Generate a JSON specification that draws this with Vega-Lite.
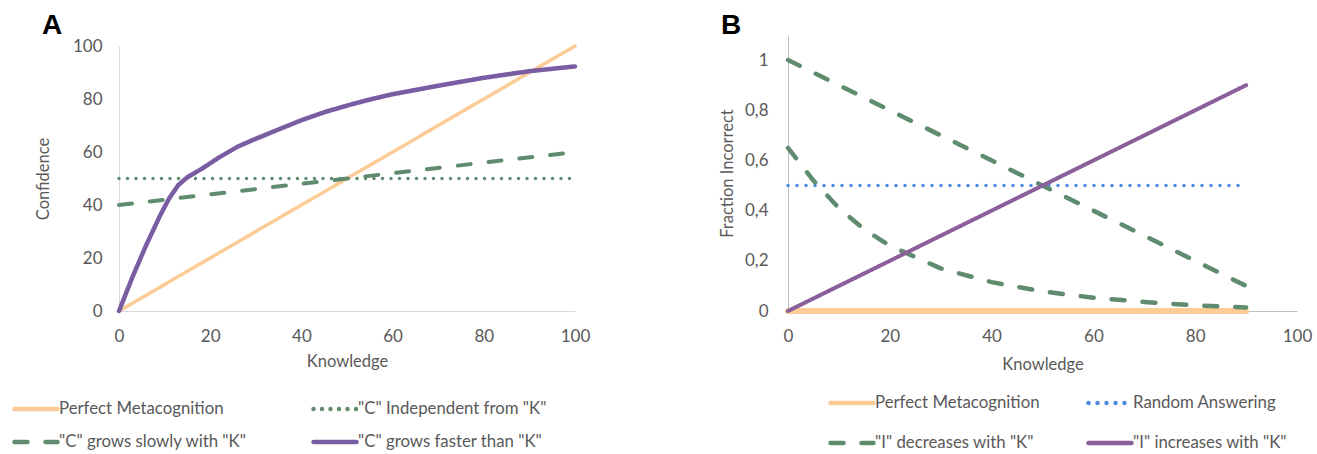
{
  "$schema": "https://vega.github.io/schema/vega-lite/v6.json",
  "padding": {"left": 12, "top": 12, "right": 4, "bottom": 5},
  "spacing": 129,
  "config": {
    "view": {"stroke": null},
    "axis": {
      "grid": false, "ticks": false, "domainColor": "#D9D9D9", "domainWidth": 1, "labelFlush": false,
      "labelColor": "#595959", "labelFont": "Lato", "labelFontSize": 17, "labelPadding": 17,
      "titleColor": "#595959", "titleFont": "Lato", "titleFontSize": 16.5, "titleFontWeight": "normal"
    },
    "legend": {
      "orient": "none", "direction": "horizontal", "columns": 2, "symbolType": "stroke", "symbolSize": 1849, "symbolStrokeWidth": 4.5,
      "labelFont": "Lato", "labelFontSize": 16.8, "labelColor": "#595959", "labelOffset": -1, "labelLimit": 400
    },
    "title": {"font": "Liberation Sans", "fontSize": 28, "fontWeight": "bold", "color": "#000000", "anchor": "start", "frame": "group"}
  },
  "datasets": {
    "a": [
      {"k": 0, "v": 0, "series": "Perfect Metacognition", "line": "p"},
      {"k": 100, "v": 100, "series": "Perfect Metacognition", "line": "p"},
      {"k": 0, "v": 50, "series": "\"C\" Independent from \"K\"", "line": "i"},
      {"k": 100, "v": 50, "series": "\"C\" Independent from \"K\"", "line": "i"},
      {"k": 0, "v": 40, "series": "\"C\" grows slowly with \"K\"", "line": "s"},
      {"k": 100, "v": 60, "series": "\"C\" grows slowly with \"K\"", "line": "s"},
      {"k": 0, "v": 0, "series": "\"C\" grows faster than \"K\"", "line": "f"},
      {"k": 3, "v": 13, "series": "\"C\" grows faster than \"K\"", "line": "f"},
      {"k": 6, "v": 25, "series": "\"C\" grows faster than \"K\"", "line": "f"},
      {"k": 9, "v": 36, "series": "\"C\" grows faster than \"K\"", "line": "f"},
      {"k": 11, "v": 42.5, "series": "\"C\" grows faster than \"K\"", "line": "f"},
      {"k": 13, "v": 47.5, "series": "\"C\" grows faster than \"K\"", "line": "f"},
      {"k": 15, "v": 50.5, "series": "\"C\" grows faster than \"K\"", "line": "f"},
      {"k": 18, "v": 53.5, "series": "\"C\" grows faster than \"K\"", "line": "f"},
      {"k": 22, "v": 58, "series": "\"C\" grows faster than \"K\"", "line": "f"},
      {"k": 26, "v": 62, "series": "\"C\" grows faster than \"K\"", "line": "f"},
      {"k": 30, "v": 65, "series": "\"C\" grows faster than \"K\"", "line": "f"},
      {"k": 35, "v": 68.5, "series": "\"C\" grows faster than \"K\"", "line": "f"},
      {"k": 40, "v": 72, "series": "\"C\" grows faster than \"K\"", "line": "f"},
      {"k": 45, "v": 75, "series": "\"C\" grows faster than \"K\"", "line": "f"},
      {"k": 50, "v": 77.5, "series": "\"C\" grows faster than \"K\"", "line": "f"},
      {"k": 55, "v": 79.8, "series": "\"C\" grows faster than \"K\"", "line": "f"},
      {"k": 60, "v": 81.8, "series": "\"C\" grows faster than \"K\"", "line": "f"},
      {"k": 70, "v": 85, "series": "\"C\" grows faster than \"K\"", "line": "f"},
      {"k": 80, "v": 88, "series": "\"C\" grows faster than \"K\"", "line": "f"},
      {"k": 90, "v": 90.5, "series": "\"C\" grows faster than \"K\"", "line": "f"},
      {"k": 100, "v": 92.3, "series": "\"C\" grows faster than \"K\"", "line": "f"}
    ],
    "b": [
      {"k": 0, "v": 0, "series": "Perfect Metacognition", "line": "p"},
      {"k": 90, "v": 0, "series": "Perfect Metacognition", "line": "p"},
      {"k": 0, "v": 0.5, "series": "Random Answering", "line": "r"},
      {"k": 90, "v": 0.5, "series": "Random Answering", "line": "r"},
      {"k": 0, "v": 1, "series": "\"I\" decreases with \"K\"", "line": "d1"},
      {"k": 90, "v": 0.1, "series": "\"I\" decreases with \"K\"", "line": "d1"},
      {"k": 0, "v": 0.65, "series": "\"I\" decreases with \"K\"", "line": "d2"},
      {"k": 5, "v": 0.52, "series": "\"I\" decreases with \"K\"", "line": "d2"},
      {"k": 10, "v": 0.41, "series": "\"I\" decreases with \"K\"", "line": "d2"},
      {"k": 15, "v": 0.325, "series": "\"I\" decreases with \"K\"", "line": "d2"},
      {"k": 20, "v": 0.26, "series": "\"I\" decreases with \"K\"", "line": "d2"},
      {"k": 30, "v": 0.17, "series": "\"I\" decreases with \"K\"", "line": "d2"},
      {"k": 40, "v": 0.115, "series": "\"I\" decreases with \"K\"", "line": "d2"},
      {"k": 50, "v": 0.078, "series": "\"I\" decreases with \"K\"", "line": "d2"},
      {"k": 60, "v": 0.053, "series": "\"I\" decreases with \"K\"", "line": "d2"},
      {"k": 70, "v": 0.036, "series": "\"I\" decreases with \"K\"", "line": "d2"},
      {"k": 80, "v": 0.022, "series": "\"I\" decreases with \"K\"", "line": "d2"},
      {"k": 90, "v": 0.014, "series": "\"I\" decreases with \"K\"", "line": "d2"},
      {"k": 0, "v": 0, "series": "\"I\" increases with \"K\"", "line": "u"},
      {"k": 90, "v": 0.9, "series": "\"I\" increases with \"K\"", "line": "u"}
    ]
  },
  "hconcat": [
    {
      "width": 456, "height": 276,
      "title": {"text": "A", "dx": -77, "offset": -5},
      "data": {"name": "a"},
      "encoding": {
        "x": {"field": "k", "type": "quantitative", "scale": {"domain": [0, 100], "nice": false},
              "axis": {"title": "Knowledge", "values": [0, 20, 40, 60, 80, 100], "titlePadding": 9}},
        "y": {"field": "v", "type": "quantitative", "scale": {"domain": [0, 100], "nice": false, "range": [276, 11]},
              "axis": {"title": "Confidence", "values": [0, 20, 40, 60, 80, 100], "titlePadding": 21}},
        "detail": {"field": "line"},
        "color": {"field": "series", "type": "nominal",
          "scale": {"domain": ["Perfect Metacognition", "\"C\" Independent from \"K\"", "\"C\" grows slowly with \"K\"", "\"C\" grows faster than \"K\""],
                    "range": ["#FCCB96", "#5F8B6E", "#5F8B6E", "#7A5CA3"]},
          "legend": {"title": null, "legendX": -107, "legendY": 350, "columnPadding": 57, "rowPadding": -11,
                     "encode": {"symbols": {"update": {"strokeCap": {"value": "round"}}}}}},
        "strokeDash": {"field": "series", "type": "nominal",
          "scale": {"domain": ["Perfect Metacognition", "\"C\" Independent from \"K\"", "\"C\" grows slowly with \"K\"", "\"C\" grows faster than \"K\""],
                    "range": [[1, 0], [0, 8.5], [13, 18], [1, 0]]},
          "legend": {"title": null, "legendX": -107, "legendY": 350, "columnPadding": 57, "rowPadding": -11,
                     "encode": {"symbols": {"update": {"strokeCap": {"value": "round"}}}}}}
      },
      "layer": [
        {"transform": [{"filter": "datum.line === 'p'"}], "mark": {"type": "line", "strokeWidth": 3.5, "strokeCap": "round"}},
        {"transform": [{"filter": "datum.line === 'i'"}], "mark": {"type": "line", "strokeWidth": 3.5, "strokeCap": "round"}},
        {"transform": [{"filter": "datum.line === 's'"}], "mark": {"type": "line", "strokeWidth": 4, "strokeCap": "round"}},
        {"transform": [{"filter": "datum.line === 'f'"}], "mark": {"type": "line", "strokeWidth": 4.5, "strokeCap": "round", "strokeJoin": "round"}}
      ]
    },
    {
      "width": 509, "height": 276,
      "title": {"text": "B", "dx": -67, "offset": -5},
      "data": {"name": "b"},
      "encoding": {
        "x": {"field": "k", "type": "quantitative", "scale": {"domain": [0, 100], "nice": false},
              "axis": {"title": "Knowledge", "values": [0, 20, 40, 60, 80, 100], "titlePadding": 12, "domainColor": "#BFBFBF"}},
        "y": {"field": "v", "type": "quantitative", "scale": {"domain": [0, 1.1], "nice": false},
              "axis": {"title": "Fraction Incorrect", "values": [0, 0.2, 0.4, 0.6, 0.8, 1], "titlePadding": 9, "domainColor": "#BFBFBF", "labelPadding": 20,
                       "labelExpr": "replace(format(datum.value, '~g'), '.', ',')"}},
        "detail": {"field": "line"},
        "color": {"field": "series", "type": "nominal",
          "scale": {"domain": ["Perfect Metacognition", "Random Answering", "\"I\" decreases with \"K\"", "\"I\" increases with \"K\""],
                    "range": ["#FCCB96", "#4E8BE0", "#5F8B6E", "#8A5F9A"]},
          "legend": {"title": null, "legendX": 40, "legendY": 344, "columnPadding": 39, "rowPadding": 7,
                     "encode": {"symbols": {"update": {"strokeCap": {"value": "round"}}}}}},
        "strokeDash": {"field": "series", "type": "nominal",
          "scale": {"domain": ["Perfect Metacognition", "Random Answering", "\"I\" decreases with \"K\"", "\"I\" increases with \"K\""],
                    "range": [[1, 0], [0, 9], [13, 18], [1, 0]]},
          "legend": {"title": null, "legendX": 40, "legendY": 344, "columnPadding": 39, "rowPadding": 7,
                     "encode": {"symbols": {"update": {"strokeCap": {"value": "round"}}}}}}
      },
      "layer": [
        {"transform": [{"filter": "datum.line === 'p'"}], "mark": {"type": "line", "strokeWidth": 6, "strokeCap": "round"}},
        {"transform": [{"filter": "datum.line === 'r'"}], "mark": {"type": "line", "strokeWidth": 3.5, "strokeCap": "round"}},
        {"transform": [{"filter": "datum.line === 'd1' || datum.line === 'd2'"}], "mark": {"type": "line", "strokeWidth": 4.5, "strokeCap": "round", "strokeJoin": "round"}},
        {"transform": [{"filter": "datum.line === 'u'"}], "mark": {"type": "line", "strokeWidth": 4, "strokeCap": "round"}}
      ]
    }
  ],
  "resolve": {"scale": {"color": "independent", "strokeDash": "independent"}, "legend": {"color": "independent", "strokeDash": "independent"}}
}
